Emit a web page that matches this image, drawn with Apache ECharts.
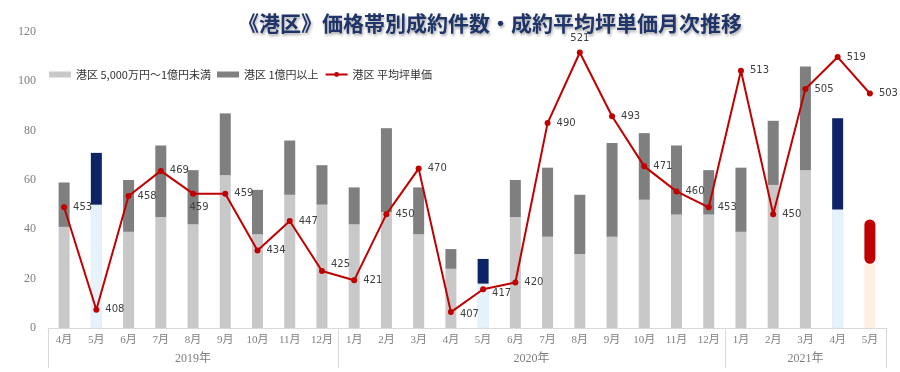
<!DOCTYPE html>
<html>
<head>
<meta charset="utf-8">
<script src="https://cdn.jsdelivr.net/npm/echarts@6/dist/echarts.min.js"></script>
<style>html,body{margin:0;padding:0;background:#fff;}#c{width:900px;height:372px;}</style>
</head>
<body>
<div id="c"></div>
<script>
const months = ['4月','5月','6月','7月','8月','9月','10月','11月','12月','1月','2月','3月','4月','5月','6月','7月','8月','9月','10月','11月','12月','1月','2月','3月','4月','5月'];
const years = ['2019年','2020年','2021年'];
const midBand = [41,50,39,45,42,62,38,54,50,42,47,38,24,18,45,37,30,37,52,46,46,39,58,64,48,26];
const highBand = [18,21,21,29,22,25,18,22,16,15,34,19,8,10,15,28,24,38,27,28,18,26,26,42,37,18];
const avgPrice = [453,408,458,469,459,459,434,447,425,421,450,470,407,417,420,490,521,493,471,460,453,513,450,505,519,503];
const seriesNames = ['港区 5,000万円～1億円未満','港区 1億円以上','港区 平均坪単価'];
const yTicks = {min:0, max:120, interval:20};

// styling (not data)
const blueIdx = [1,13,24];
const redIdx = [25];
const labelStyle = {4:{position:'bottom', offset:[6,0]}, 8:{position:'right', offset:[0,-7]}, 12:{position:'right', offset:[0,2]}, 13:{position:'right', offset:[0,4]}, 16:{position:'top'}};

const serif = "'Liberation Serif','Noto Sans CJK JP',serif";
const jp = "'Noto Sans CJK JP',sans-serif";

function midItem(v,i){
  if (blueIdx.includes(i)) return {value:v, itemStyle:{color:'#e6f3fc', borderColor:'#d0e4f2', borderWidth:0.5}};
  if (redIdx.includes(i)) return {value:v, itemStyle:{color:'#fdf0e2', borderColor:'#fdf0e2', borderWidth:2.5}};
  return v;
}
function highItem(v,i){
  if (blueIdx.includes(i)) return {value:v, itemStyle:{color:'#0c2466'}};
  if (redIdx.includes(i)) return {value:v, itemStyle:{color:'#c00000', borderColor:'#c00000', borderWidth:2.5, borderRadius:[5,5,5,5]}};
  return v;
}

// year axis: half-month steps
const yearCats = [];
for (let k=0;k<=months.length*2;k++) yearCats.push(String(k));
const boundaries = [0];
months.forEach((m,i)=>{ if (i>0 && m==='1月') boundaries.push(i*2); });
boundaries.push(months.length*2);
const yearCenters = {};
for (let j=0;j<boundaries.length-1;j++) yearCenters[(boundaries[j]+boundaries[j+1])/2] = years[j];

const chart = echarts.init(document.getElementById('c'));
chart.setOption({
  animation:false,
  backgroundColor:'#fff',
  title:{
    text:'《港区》価格帯別成約件数・成約平均坪単価月次推移',
    left:485, textAlign:'center', top:8,
    textStyle:{fontFamily:jp, fontSize:21, fontWeight:'bold', color:'#1f3468',
      textShadowColor:'rgba(0,0,0,0.35)', textShadowBlur:3, textShadowOffsetX:1, textShadowOffsetY:2}
  },
  legend:{
    left:44, top:64, itemGap:6, itemWidth:22, itemHeight:6,
    textStyle:{fontFamily:jp, fontSize:11, color:'#333'},
    data:[{name:seriesNames[0], icon:'rect'},{name:seriesNames[1], icon:'rect'},{name:seriesNames[2]}]
  },
  grid:{left:48, right:14, top:32, bottom:44},
  xAxis:[
    {type:'category', data:months, boundaryGap:true, position:'bottom',
     axisLine:{show:true, lineStyle:{color:'#d9d9d9', width:1}},
     axisTick:{show:false},
     axisLabel:{interval:0, margin:7, fontFamily:serif, fontSize:11, color:'#7f7f7f'}},
    {type:'category', data:yearCats, boundaryGap:false, position:'bottom', offset:0,
     axisLine:{show:false},
     axisTick:{show:true, length:40, interval:(i)=>boundaries.includes(i), lineStyle:{color:'#d9d9d9'}},
     axisLabel:{interval:(i)=>yearCenters[i]!==undefined, formatter:(v,i)=>yearCenters[i]||'', margin:25,
       fontFamily:serif, fontSize:12, color:'#7f7f7f'},
     splitLine:{show:false}}
  ],
  yAxis:[
    {type:'value', min:yTicks.min, max:yTicks.max, interval:yTicks.interval,
     axisLine:{show:false}, axisTick:{show:false}, splitLine:{show:false},
     axisLabel:{margin:12, fontFamily:serif, fontSize:12, color:'#7f7f7f'}},
    {type:'value', min:400, max:530, show:false, splitLine:{show:false}}
  ],
  series:[
    {name:seriesNames[0], type:'bar', stack:'cnt', barWidth:11, xAxisIndex:0, yAxisIndex:0,
     itemStyle:{color:'#c8c8c8'}, data:midBand.map(midItem)},
    {name:seriesNames[1], type:'bar', stack:'cnt', barWidth:11, xAxisIndex:0, yAxisIndex:0,
     itemStyle:{color:'#7f7f7f'}, data:highBand.map(highItem)},
    {name:seriesNames[2], type:'line', xAxisIndex:0, yAxisIndex:1, z:5,
     symbol:'circle', symbolSize:6,
     lineStyle:{color:'#c00000', width:2}, itemStyle:{color:'#c00000'},
     label:{show:true, position:'right', distance:6, fontFamily:"'DejaVu Sans',sans-serif", fontSize:10, color:'#404040'},
     data:avgPrice.map((v,i)=> labelStyle[i] ? {value:v, label:labelStyle[i]} : v)}
  ]
});
</script>
</body>
</html>
